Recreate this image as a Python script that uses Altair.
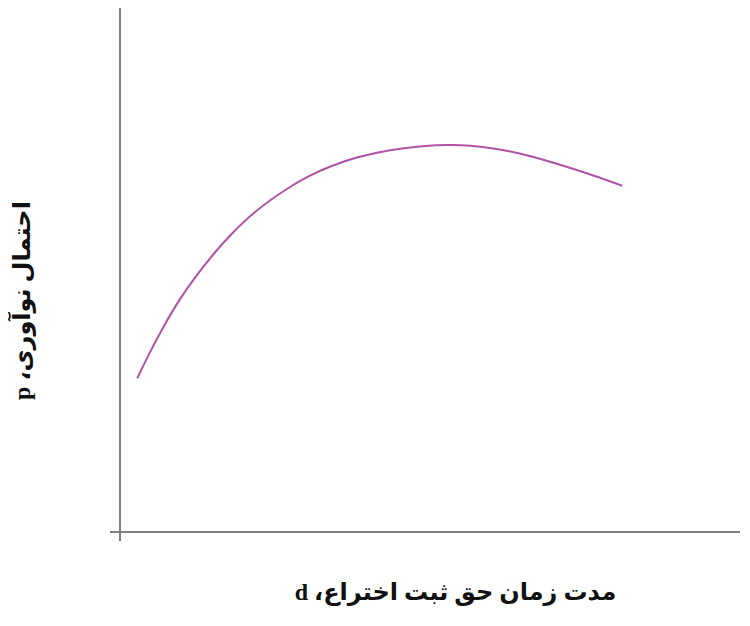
import altair as alt
import pandas as pd

# curve values (patent length d vs innovation probability p)
d_values = [17.3, 26.7, 43.3, 60, 76.7, 93.3, 109.3, 133.3, 170, 190, 210,
            236.7, 270, 303.3, 330, 350, 373.3, 406.7, 440, 473.3, 502.3]
p_values = [153.7, 173.7, 205.3, 233.7, 257, 278, 296, 320, 345.7, 356.7, 365.7,
            375, 382.3, 386.3, 387.3, 386.7, 384, 377.3, 367.3, 356.7, 346.3]

RLE, PDF = "\u202B", "\u202C"
x_title = RLE + "مدت زمان حق ثبت اختراع، d" + PDF
y_title = RLE + "احتمال نوآوری، p" + PDF

curve = pd.DataFrame({"d": d_values, "p": p_values})

# axis lines (extend slightly beyond origin)
x_axis_line = pd.DataFrame({"x": [-10], "x2": [630], "y": [0]})
y_axis_line = pd.DataFrame({"x": [0], "y": [-9], "y2": [524]})

xs = alt.Scale(domain=[-10, 620], nice=False, zero=False)
ys = alt.Scale(domain=[-9, 524], nice=False, zero=False)

font = "Liberation Serif, DejaVu Sans"

line = alt.Chart(curve).mark_line(color="#b052a6", strokeWidth=2, interpolate="basis").encode(
    x=alt.X("d:Q", scale=xs, title=x_title,
            axis=alt.Axis(domain=False, ticks=False, labels=False, grid=False,
                          titleX=345, titleY=51, titleBaseline="middle",
                          titleFont=font, titleFontSize=24, titleFontWeight="bold",
                          titleColor="#111111")),
    y=alt.Y("p:Q", scale=ys, title=y_title,
            axis=alt.Axis(domain=False, ticks=False, labels=False, grid=False,
                          titleX=-88, titleY=292, titleAngle=270, titleBaseline="middle",
                          titleFont=font, titleFontSize=24, titleFontWeight="bold",
                          titleColor="#111111")),
)

xline = alt.Chart(x_axis_line).mark_rule(color="#808080", strokeWidth=2).encode(
    x=alt.X("x:Q", scale=xs), x2="x2:Q", y=alt.Y("y:Q", scale=ys)
)
yline = alt.Chart(y_axis_line).mark_rule(color="#808080", strokeWidth=2).encode(
    x=alt.X("x:Q", scale=xs), y=alt.Y("y:Q", scale=ys), y2="y2:Q"
)

chart = alt.layer(xline, yline, line).properties(
    width=630, height=533,
    autosize=alt.AutoSizeParams(type="none"),
    padding={"left": 102, "top": 0, "right": 0, "bottom": 70},
).configure_view(stroke=None)

chart.save("out.html", embed_options={"renderer": "svg", "actions": False})
